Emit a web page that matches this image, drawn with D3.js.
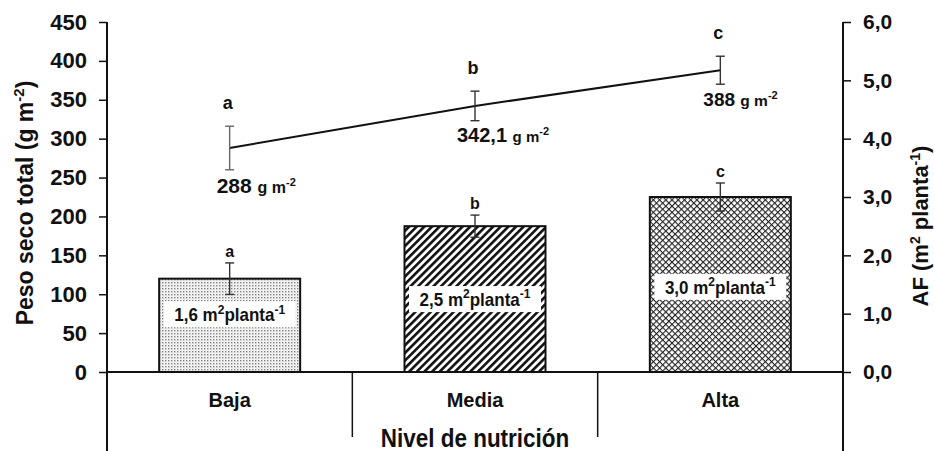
<!DOCTYPE html>
<html>
<head>
<meta charset="utf-8">
<script src="https://cdn.jsdelivr.net/npm/d3@7"></script>
<style>
  body { margin: 0; background: #fff; }
  text { font-family: "Liberation Sans", Arial, sans-serif; font-weight: bold; fill: #111; }
</style>
</head>
<body>
<script>
// data
var categories = ['Baja', 'Media', 'Alta'];
var afValues = [1.6, 2.5, 3.0];
var afErrors = [0.27, 0.19, 0.24];
var afLetters = ['a', 'b', 'c'];
var afLabels = ['1,6', '2,5', '3,0'];
var pesoValues = [288, 342.1, 388];
var pesoErrors = [28, 19, 18];
var pesoLetters = ['a', 'b', 'c'];
var pesoLabels = ['288', '342,1', '388'];
var leftTicks = [0, 50, 100, 150, 200, 250, 300, 350, 400, 450];
var rightTicks = [0, 1, 2, 3, 4, 5, 6];

var W = 935, H = 451;
var m = { left: 107, right: 843, top: 22, bottom: 372 };

var svg = d3.select('body').append('svg')
  .attr('width', W)
  .attr('height', H);

var x = d3.scaleBand().domain(categories).range([m.left, m.right]).padding(0);
var yL = d3.scaleLinear().domain([0, 450]).range([m.bottom, m.top]);
var yR = d3.scaleLinear().domain([0, 6]).range([m.bottom, m.top]);
var cx = function(c) { return x(c) + x.bandwidth() / 2; };
var barW = 141;

// hatch patterns
var defs = svg.append('defs');
var dots = defs.append('pattern').attr('id', 'p-dots')
  .attr('patternUnits', 'userSpaceOnUse').attr('width', 3).attr('height', 3);
dots.append('rect').attr('width', 3).attr('height', 3).attr('fill', '#fff');
dots.append('rect').attr('x', 0).attr('y', 0).attr('width', 1.4).attr('height', 1.4).attr('fill', '#7a7a7a');
dots.append('rect').attr('x', 1.5).attr('y', 1.5).attr('width', 1).attr('height', 1).attr('fill', '#b5b5b5');

var stripes = defs.append('pattern').attr('id', 'p-stripes')
  .attr('patternUnits', 'userSpaceOnUse').attr('width', 5.4).attr('height', 5.4)
  .attr('patternTransform', 'rotate(45)');
stripes.append('rect').attr('width', 5.4).attr('height', 5.4).attr('fill', '#fff');
stripes.append('rect').attr('x', 0).attr('y', 0).attr('width', 2.6).attr('height', 5.4).attr('fill', '#111');

var cross = defs.append('pattern').attr('id', 'p-cross')
  .attr('patternUnits', 'userSpaceOnUse').attr('width', 4.4).attr('height', 4.4)
  .attr('patternTransform', 'rotate(45)');
cross.append('rect').attr('width', 4.4).attr('height', 4.4).attr('fill', '#fff');
cross.append('rect').attr('x', 0).attr('y', 0).attr('width', 1.1).attr('height', 4.4).attr('fill', '#222');
cross.append('rect').attr('x', 0).attr('y', 0).attr('width', 4.4).attr('height', 1.1).attr('fill', '#222');

var fills = ['url(#p-dots)', 'url(#p-stripes)', 'url(#p-cross)'];

// bars (AF, right axis)
svg.selectAll('.bar').data(categories).enter().append('rect')
  .attr('class', 'bar')
  .attr('x', function(d) { return cx(d) - barW / 2; })
  .attr('y', function(d, i) { return yR(afValues[i]); })
  .attr('width', barW)
  .attr('height', function(d, i) { return yR(0) - yR(afValues[i]); })
  .attr('fill', function(d, i) { return fills[i]; })
  .attr('stroke', '#111')
  .attr('stroke-width', 2);

var errBar = function(g, xPos, y1, y2, col) {
  g.append('line').attr('x1', xPos).attr('x2', xPos).attr('y1', y1).attr('y2', y2).attr('stroke', col).attr('stroke-width', 1.4);
  g.append('line').attr('x1', xPos - 4.5).attr('x2', xPos + 4.5).attr('y1', y1).attr('y2', y1).attr('stroke', col).attr('stroke-width', 1.4);
  g.append('line').attr('x1', xPos - 4.5).attr('x2', xPos + 4.5).attr('y1', y2).attr('y2', y2).attr('stroke', col).attr('stroke-width', 1.4);
};

var ge = svg.append('g');
categories.forEach(function(c, i) {
  errBar(ge, cx(c), yR(afValues[i] + afErrors[i]), yR(afValues[i] - afErrors[i]), '#333');
  ge.append('text').attr('x', cx(c)).attr('y', yR(afValues[i] + afErrors[i]) - 6)
    .attr('text-anchor', 'middle').style('font-size', '16px').text(afLetters[i]);
});

// bar value labels with white boxes
var labelAt = [0.99, 1.25, 1.46];
categories.forEach(function(c, i) {
  var yy = yR(labelAt[i]);
  var g = svg.append('g');
  g.append('rect').attr('x', cx(c) - 66).attr('y', yy - 13).attr('width', 132).attr('height', 26).attr('fill', '#fff');
  var t = g.append('text')
    .attr('transform', 'translate(' + cx(c) + ',' + (yy + 7) + ') scale(1,1.1)')
    .attr('text-anchor', 'middle').style('font-size', '17px');
  t.append('tspan').text(afLabels[i] + ' m');
  t.append('tspan').attr('dy', -7).style('font-size', '12px').text('2');
  t.append('tspan').attr('dy', 7).text('planta');
  t.append('tspan').attr('dy', -7).style('font-size', '12px').text('-1');
});

// line (peso seco, left axis)
var line = d3.line()
  .x(function(d, i) { return cx(categories[i]); })
  .y(function(d) { return yL(d); });
svg.append('path').datum(pesoValues)
  .attr('d', line).attr('fill', 'none').attr('stroke', '#111').attr('stroke-width', 2);

var valDx = [-13, -18, -17];
var valDy = [23, 21, 22];
var valSize = [[21, 16, 11], [20, 15, 11], [19, 15.5, 11]];
categories.forEach(function(c, i) {
  var col = i === 0 ? '#666' : '#333';
  var top = yL(pesoValues[i] + pesoErrors[i]);
  var bot = yL(pesoValues[i] - pesoErrors[i]);
  errBar(svg, cx(c), top, bot, col);
  svg.append('text').attr('x', cx(c) - 2).attr('y', top - 17)
    .attr('text-anchor', 'middle').style('font-size', '18px').text(pesoLetters[i]);
  var t = svg.append('text')
    .attr('x', cx(c) + valDx[i])
    .attr('y', bot + valDy[i])
    .style('font-size', valSize[i][0] + 'px');
  t.append('tspan').text(pesoLabels[i] + ' ');
  t.append('tspan').style('font-size', valSize[i][1] + 'px').text('g m');
  t.append('tspan').attr('dy', -7).style('font-size', valSize[i][2] + 'px').text('-2');
});

// axes
var fmt = function(d) { return d3.format('.1f')(d).replace('.', ','); };
var axL = svg.append('g').attr('transform', 'translate(' + m.left + ',0)')
  .call(d3.axisLeft(yL).tickValues(leftTicks).tickSize(8).tickPadding(12));
var axR = svg.append('g').attr('transform', 'translate(' + m.right + ',0)')
  .call(d3.axisRight(yR).tickValues(rightTicks).tickSize(8).tickPadding(12).tickFormat(fmt));
[axL, axR].forEach(function(a) {
  a.select('.domain').remove();
  a.selectAll('line').attr('stroke', '#111').attr('stroke-width', 1.5);
  a.selectAll('text')
    .style('font-size', '22px')
    .style('font-family', '"Liberation Sans", Arial, sans-serif')
    .style('font-weight', 'bold')
    .attr('fill', '#111');
});
axR.selectAll('text').style('font-size', '21px');

// frame lines
svg.append('line').attr('x1', m.left).attr('x2', m.left).attr('y1', m.top).attr('y2', H).attr('stroke', '#111').attr('stroke-width', 2);
svg.append('line').attr('x1', m.right).attr('x2', m.right).attr('y1', m.top).attr('y2', H).attr('stroke', '#111').attr('stroke-width', 2);
svg.append('line').attr('x1', m.left).attr('x2', m.right).attr('y1', m.bottom).attr('y2', m.bottom).attr('stroke', '#111').attr('stroke-width', 2);

// category dividers and labels
categories.slice(1).forEach(function(c) {
  svg.append('line').attr('x1', x(c)).attr('x2', x(c)).attr('y1', m.bottom).attr('y2', 437)
    .attr('stroke', '#111').attr('stroke-width', 1.5);
});
svg.selectAll('.cat').data(categories).enter().append('text')
  .attr('x', function(d) { return cx(d); })
  .attr('y', 407)
  .attr('text-anchor', 'middle').style('font-size', '20px')
  .text(function(d) { return d; });

svg.append('text').attr('transform', 'translate(475,447) scale(1,1.12)')
  .attr('text-anchor', 'middle').style('font-size', '22.5px').text('Nivel de nutrición');

// axis titles
var tl = svg.append('text').attr('transform', 'translate(33,203) rotate(-90)')
  .attr('text-anchor', 'middle').style('font-size', '23px');
tl.append('tspan').text('Peso seco total (g m');
tl.append('tspan').attr('dy', -9).style('font-size', '15px').text('-2');
tl.append('tspan').attr('dy', 9).text(')');

var tr = svg.append('text').attr('transform', 'translate(928,226) rotate(-90)')
  .attr('text-anchor', 'middle').style('font-size', '22px');
tr.append('tspan').text('AF (m');
tr.append('tspan').attr('dy', -8).style('font-size', '14px').text('2');
tr.append('tspan').attr('dy', 8).text(' planta');
tr.append('tspan').attr('dy', -8).style('font-size', '14px').text('-1');
tr.append('tspan').attr('dy', 8).text(')');
</script>
</body>
</html>
